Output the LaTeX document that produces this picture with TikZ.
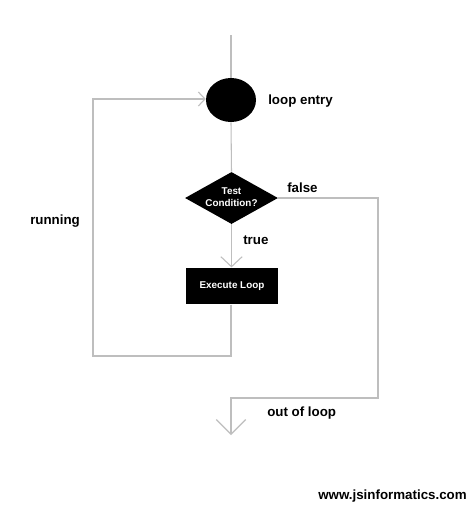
\documentclass[tikz,border=0pt]{standalone}
\usepackage{fontspec}
\setmainfont{Liberation Sans}
\usetikzlibrary{shapes.geometric,arrows.meta}
\definecolor{linegray}{RGB}{190,190,190}
\tikzset{
  flow/.style={draw=linegray, line width=0.8pt},
  smallbarb/.style={-{Straight Barb[length=5pt,width=10.5pt,line width=0.8pt]}},
  midbarb/.style={-{Straight Barb[length=7.5pt,width=16pt,line width=0.8pt]}},
  bigbarb/.style={-{Straight Barb[length=11pt,width=22pt,line width=0.8pt]}},
  lbl/.style={font=\fontsize{10}{12}\selectfont\bfseries, text=black, inner sep=0pt, anchor=west},
  inlbl/.style={font=\fontsize{7.4}{8.6}\selectfont\bfseries, text=white, align=center},
}
\begin{document}
\begin{tikzpicture}[x=0.75pt,y=-0.75pt]
\useasboundingbox (0,0) rectangle (474,508);
\fill[white] (0,0) rectangle (474,508);
% nodes
\coordinate (top) at (231,35);
\node[ellipse, fill=black, minimum width=37.5pt, minimum height=33pt, inner sep=0pt] (entry) at (231,100) {};
\node[diamond, fill=black, minimum width=69.75pt, minimum height=39pt, inner sep=0pt, aspect=1.8] (test) at (231.5,198) {};
\node[inlbl] (testlbl) at (231.5,197) {Test\\Condition?};
\node[rectangle, fill=black, minimum width=69pt, minimum height=27.5pt, inner sep=0pt] (exec) at (232,286) {};
\node[inlbl] (execlbl) at (232,286) {Execute Loop};
% corners
\coordinate (fr) at (378,198);
\coordinate (fd) at (378,398);
\coordinate (fl) at (231,398);
\coordinate (out) at (231,435);
\coordinate (rb) at (231,356);
\coordinate (lb) at (93,356);
\coordinate (lt) at (93,99);
% connectors
\draw[flow] (top) -- (entry.north);
\draw[flow] (entry.south) -- (test.north);
\draw[flow, midbarb] (test.south) -- (exec.north -| test.south);
\draw[flow, bigbarb] (test.east) -- (fr) -- (fd) -- (fl) -- (out);
\draw[flow, smallbarb] (exec.south -| rb) -- (rb) -- (lb) -- (lt) -- (lt -| entry.west);
% labels
\node[lbl] (l1) at (268,101) {loop entry};
\node[lbl] (l2) at (287,188) {false};
\node[lbl] (l3) at (243,240) {true};
\node[lbl] (l4) at (30,221) {running};
\node[lbl] (l5) at (267,413) {out of loop};
\node[lbl] (l6) at (318,496) {www.jsinformatics.com};
\end{tikzpicture}
\end{document}
